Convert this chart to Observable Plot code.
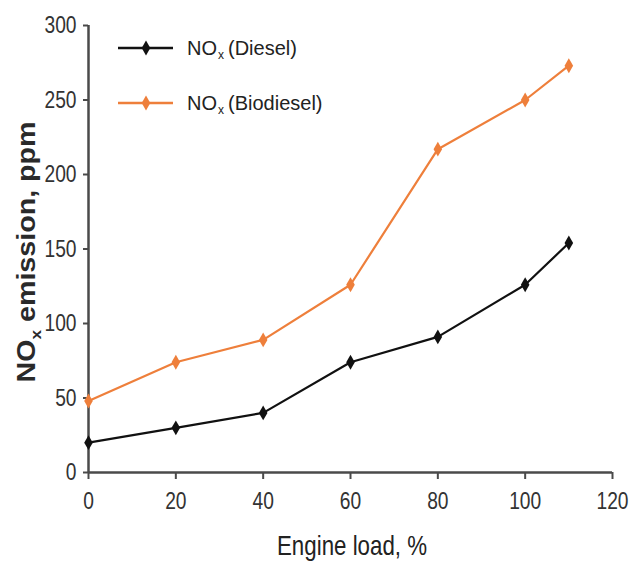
<!DOCTYPE html>
<html><head><meta charset="utf-8">
<script src="https://cdn.jsdelivr.net/npm/d3@7"></script>
<script src="https://cdn.jsdelivr.net/npm/@observablehq/plot@0.6"></script>
<style>
body{margin:0;background:#fff;}
#wrap{position:relative;width:631px;height:562px;}
</style></head><body>
<div id="wrap"></div>
<script>
const loads = [0, 20, 40, 60, 80, 100, 110];
const diesel = [20, 30, 40, 74, 91, 126, 154];
const biodiesel = [48, 74, 89, 126, 217, 250, 273];
const xTicks = [0, 20, 40, 60, 80, 100, 120];
const yTicks = [0, 50, 100, 150, 200, 250, 300];
const seriesNames = ["Diesel", "Biodiesel"];
const seriesColors = ["#111111", "#ee7f3b"];

const rows = [];
loads.forEach((l, i) => {
  rows.push({load: l, value: diesel[i], series: seriesNames[0]});
  rows.push({load: l, value: biodiesel[i], series: seriesNames[1]});
});

const font = '"Liberation Sans",Arial,sans-serif';
const chart = Plot.plot({
  width: 631, height: 562,
  marginLeft: 88, marginRight: 19, marginTop: 25, marginBottom: 90,
  style: {fontFamily: font, fontSize: "24px", color: "#333", background: "#fff"},
  x: {domain: [0, 120], label: null},
  y: {domain: [0, 300], label: null},
  color: {domain: seriesNames, range: seriesColors},
  marks: [
    Plot.axisX({ticks: xTicks, tickSize: 7, tickPadding: 12, stroke: "#4a4a4a", strokeWidth: 2, fontSize: 24, fill: "#333"}),
    Plot.axisY({ticks: yTicks, tickSize: 5, tickPadding: 7, stroke: "#4a4a4a", strokeWidth: 2, fontSize: 24, fill: "#333"}),
    Plot.ruleY([0], {stroke: "#4a4a4a", strokeWidth: 2.5}),
    Plot.ruleX([0], {stroke: "#4a4a4a", strokeWidth: 2.5}),
    Plot.line(rows, {x: "load", y: "value", z: "series", stroke: "series", strokeWidth: 2.2}),
    Plot.dot(rows, {x: "load", y: "value", fill: "series", symbol: "diamond", r: 4.5})
  ]
});
const wrap = document.getElementById("wrap");
wrap.appendChild(chart);
const svg = d3.select(chart);

// condense tick labels (narrow font look)
svg.selectAll('g[aria-label="x-axis tick label"] text, g[aria-label="y-axis tick label"] text')
  .attr("transform", function() { return (this.getAttribute("transform") || "") + " scale(0.8,1)"; });

// y axis title with subscript
const t = svg.append("text")
  .attr("transform", "translate(35,252) rotate(-90)")
  .attr("text-anchor", "middle")
  .attr("font-family", font)
  .attr("font-size", 25)
  .attr("font-weight", "bold")
  .attr("fill", "#2a2a2a")
  .attr("textLength", 261)
  .attr("lengthAdjust", "spacingAndGlyphs");
t.append("tspan").text("NO");
t.append("tspan").attr("font-size", 15).attr("dy", 6).text("x");
t.append("tspan").attr("dy", -6).text(" emission, ppm");

svg.append("text")
  .attr("x", 352).attr("y", 555)
  .attr("text-anchor", "middle")
  .attr("font-family", font)
  .attr("font-size", 28)
  .attr("fill", "#222")
  .attr("textLength", 150)
  .attr("lengthAdjust", "spacingAndGlyphs")
  .text("Engine load, %");

// legend (separate text pieces so nothing overlaps)
seriesNames.forEach((name, i) => {
  const cy = 48 + i * 55;
  const c = seriesColors[i];
  const g = svg.append("g");
  g.append("line").attr("x1", 118).attr("x2", 173).attr("y1", cy).attr("y2", cy)
    .attr("stroke", c).attr("stroke-width", 2.5);
  g.append("path").attr("d", d3.symbol(d3.symbolDiamond, 64)()).attr("transform", `translate(146,${cy})`).attr("fill", c);
  let x = 187;
  const pieces = [["NO", 20, 7], ["x", 12, 11], [`(${name})`, 20, 7]];
  pieces.forEach(([txt, fs, dy], k) => {
    const el = g.append("text").attr("x", x).attr("y", cy + dy)
      .attr("text-anchor", "start")
      .attr("font-family", font).attr("font-size", fs).attr("fill", "#222")
      .text(txt);
    x += el.node().getComputedTextLength() + (k === 1 ? 4 : 1);
  });
});
</script>
</body></html>
